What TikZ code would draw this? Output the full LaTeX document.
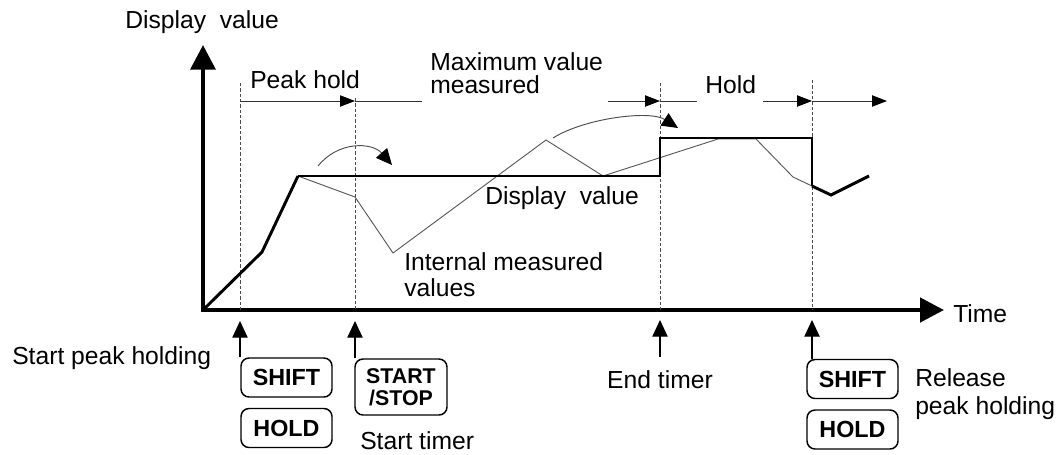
\documentclass[tikz,border=0pt]{standalone}
\usepackage{fontspec}
\setmainfont{Liberation Sans}
\usetikzlibrary{arrows.meta}
\begin{document}
\begin{tikzpicture}[x=0.75pt,y=-0.75pt,
  lbl/.style={font=\fontsize{18.5}{20}\selectfont, inner sep=0pt, align=left},
  keybox/.style={draw, line width=1.1pt, rounded corners=6pt, inner sep=0pt,
    font=\bfseries\fontsize{17.5}{15}\selectfont, align=center,
    minimum width=68.25pt, minimum height=29.25pt},
  axisline/.style={line width=3.4pt, line join=miter,
    {Triangle[length=18.5pt,width=18.5pt]}-{Triangle[length=18pt,width=18pt]}},
  displine/.style={line width=1.6pt, line join=miter},
  risingline/.style={line width=2.2pt},
  innerline/.style={line width=0.7pt, black!65},
  guide/.style={line width=0.6pt, black!70, dash pattern=on 2.5pt off 1.5pt},
  spanarrow/.style={line width=0.7pt, black!80, -{Triangle[length=11.25pt,width=8.5pt,black]}},
  spanline/.style={line width=0.7pt, black!80},
  curvearrow/.style={line width=0.7pt, black!70, -{Triangle[length=12pt,width=11pt,black]}},
  keyarrow/.style={line width=0.9pt, -{Triangle[length=12.5pt,width=11.5pt]}}
]
\useasboundingbox (0,0) rectangle (1064,454);

% axes
\coordinate (O) at (203,310);
\coordinate (ytip) at (203,45);
\coordinate (xtip) at (944,310);
\draw[axisline] (ytip) -- (O) -- (xtip);
\node[lbl, anchor=west] (ylab) at (125,22) {Display\ \ value};
\node[lbl, anchor=west] (xlab) at (953,314) {Time};

% event positions
\coordinate (e1) at (240,310);
\coordinate (e2) at (355,310);
\coordinate (e3) at (660,310);
\coordinate (e4) at (812,310);

% dashed guides
\draw[guide] (240,83) -- (e1);
\draw[guide] (355,98) -- (e2);
\draw[guide] (660,83) -- (e3);
\draw[guide] (812,80) -- (e4);

% span arrows at the top
\coordinate (s1) at (240,101);
\coordinate (s2) at (355,101);
\coordinate (s3) at (422,101);
\coordinate (s4) at (608,101);
\coordinate (s5) at (660,101);
\coordinate (s6) at (697,101);
\coordinate (s7) at (763,101);
\coordinate (s8) at (812,101);
\coordinate (s9) at (887,101);
\draw[spanarrow] (s1) -- (s2);
\draw[spanline] (s2) -- (s3);
\draw[spanarrow] (s4) -- (s5);
\draw[spanline] (s5) -- (s6);
\draw[spanarrow] (s7) -- (s8);
\draw[spanarrow] (s8) -- (s9);

\node[lbl, anchor=west] (peak) at (250,80) {Peak hold};
\node[lbl, anchor=west, font=\fontsize{18.5}{17.5}\selectfont] (maxv) at (430,73) {Maximum value\\measured};
\node[lbl, anchor=west] (hold) at (705,85) {Hold};

% internal measured values
\draw[innerline] (298,176) -- (355,197) -- (393,253) -- (546,140) -- (603,176)
  -- (718,139) -- (756,139) -- (793,177) -- (812,186);

% display value
\draw[risingline] (O) -- (262,252) -- (298,176);
\draw[displine] (298,176) -- (660,176) -- (660,138) -- (812,138) -- (812,186);
\draw[risingline] (812,186) -- (831,195) -- (869,176);

% curved arrows
\draw[curvearrow] (318,166) .. controls (338,141) and (372,142) .. (392,165);
\draw[curvearrow] (553,138) .. controls (585,118) and (650,110) .. (678,128);

\node[lbl, anchor=west] (dv) at (485,198) {Display\ \ value};
\node[lbl, anchor=west, font=\fontsize{18.5}{19.5}\selectfont] (imv) at (404,275) {Internal measured\\values};

% keys
\node[keybox] (shiftA) at (286.5,377.5) {SHIFT};
\node[keybox] (holdA) at (286.5,428) {HOLD};
\node[keybox, minimum width=69pt, minimum height=42pt, font=\bfseries\fontsize{16}{16.5}\selectfont] (ss) at (401,387) {START\\/STOP};
\node[keybox] (shiftB) at (852.5,379) {SHIFT};
\node[keybox] (holdB) at (852.5,429.5) {HOLD};

% key arrows
\coordinate (k1) at (240,321);
\coordinate (k2) at (355,321);
\coordinate (k3) at (660,320);
\coordinate (k4) at (812,320);
\coordinate (k3b) at (660,357);
\draw[keyarrow] (k1 |- shiftA.north) -- (k1);
\draw[keyarrow] (k2 |- ss.north) -- (k2);
\draw[keyarrow] (k3b) -- (k3);
\draw[keyarrow] (k4 |- shiftB.north) -- (k4);

\node[lbl, anchor=west] (sph) at (12,358) {Start peak holding};
\node[lbl, anchor=west] (st) at (360,441) {Start timer};
\node[lbl] (et) at (660,380) {End timer};
\node[lbl, anchor=west, font=\fontsize{18.5}{21}\selectfont] (rph) at (915,394) {Release\\peak holding};
\end{tikzpicture}
\end{document}
